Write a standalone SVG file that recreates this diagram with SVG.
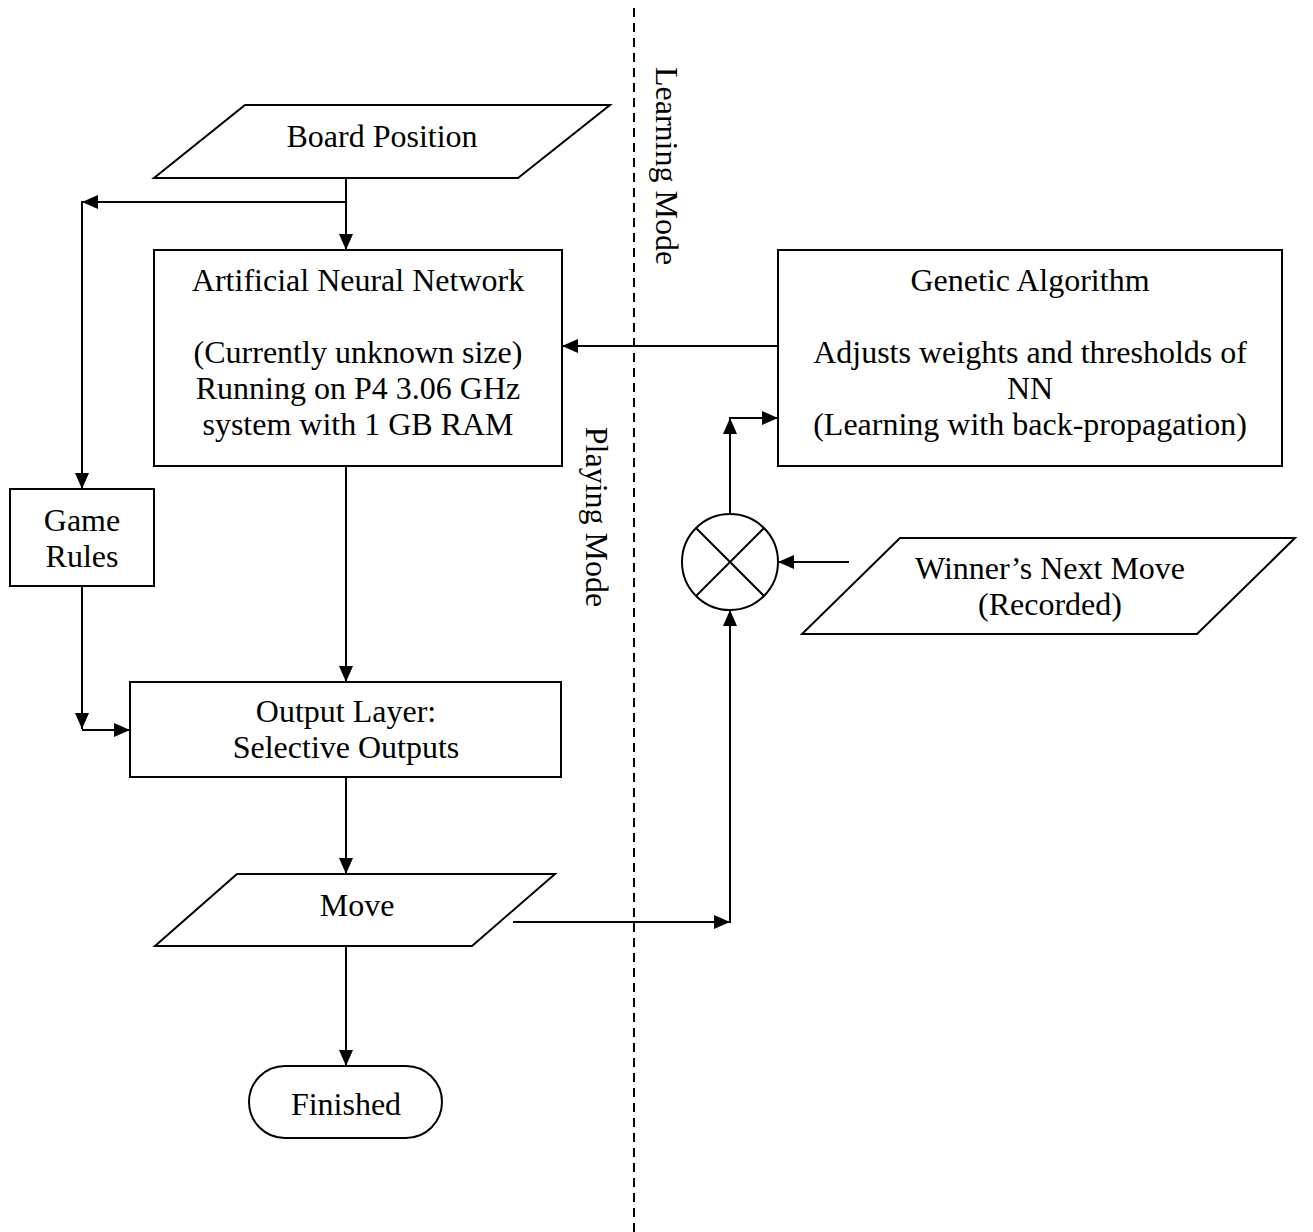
<svg xmlns="http://www.w3.org/2000/svg" width="1313" height="1232" viewBox="0 0 1313 1232">
<style>
.s{fill:#fff;stroke:#000;stroke-width:2}
.t{font-family:"Liberation Serif","Times New Roman",serif;font-size:32px;fill:#000;text-anchor:middle}
.c{fill:none;stroke:#000;stroke-width:2}
</style>
<defs>
<marker id="ah" markerUnits="userSpaceOnUse" markerWidth="16" markerHeight="14" refX="16" refY="7" orient="auto" viewBox="0 0 16 14">
<path d="M0,0 L16,7 L0,14 z" fill="#000"/>
</marker>
</defs>
<rect width="1313" height="1232" fill="#fff"/>
<line x1="634" y1="8" x2="634" y2="1232" stroke="#000" stroke-width="2" stroke-dasharray="9,6"/>
<text class="t" transform="translate(656,166) rotate(90)">Learning Mode</text>
<text class="t" transform="translate(586,517) rotate(90)">Playing Mode</text>
<g id="board">
<polygon class="s" points="245,105 610,105 518,178 154,178"/>
<text class="t" x="382" y="147">Board Position</text>
</g>
<g id="ann">
<rect class="s" x="154" y="250" width="408" height="216"/>
<text class="t" x="358" y="291">Artificial Neural Network</text>
<text class="t" x="358" y="363">(Currently unknown size)</text>
<text class="t" x="358" y="399">Running on P4 3.06 GHz</text>
<text class="t" x="358" y="435">system with 1 GB RAM</text>
</g>
<g id="ga">
<rect class="s" x="778" y="250" width="504" height="216"/>
<text class="t" x="1030" y="291">Genetic Algorithm</text>
<text class="t" x="1030" y="363">Adjusts weights and thresholds of</text>
<text class="t" x="1030" y="399">NN</text>
<text class="t" x="1030" y="435">(Learning with back-propagation)</text>
</g>
<g id="rules">
<rect class="s" x="10" y="489" width="144" height="97"/>
<text class="t" x="82" y="531">Game</text>
<text class="t" x="82" y="567">Rules</text>
</g>
<g id="comparator">
<circle class="s" cx="730" cy="562" r="48"/>
<line class="c" x1="696" y1="528" x2="764" y2="596"/>
<line class="c" x1="764" y1="528" x2="696" y2="596"/>
</g>
<g id="winner">
<polygon class="s" points="900,538 1295,538 1197,634 802,634"/>
<text class="t" x="1050" y="579">Winner’s Next Move</text>
<text class="t" x="1050" y="615">(Recorded)</text>
</g>
<g id="output">
<rect class="s" x="130" y="682" width="431" height="95"/>
<text class="t" x="346" y="722">Output Layer:</text>
<text class="t" x="346" y="758">Selective Outputs</text>
</g>
<g id="move">
<polygon class="s" points="237,874 555,874 472,946 155,946"/>
<text class="t" x="357" y="916">Move</text>
</g>
<g id="finished">
<rect class="s" x="249" y="1066" width="193" height="72" rx="36" ry="36"/>
<text class="t" x="346" y="1115">Finished</text>
</g>
<g id="connectors">
<line class="c" x1="346" y1="178" x2="346" y2="250" marker-end="url(#ah)"/>
<line class="c" x1="346" y1="202" x2="82" y2="202" marker-end="url(#ah)"/>
<line class="c" x1="82" y1="201" x2="82" y2="489" marker-end="url(#ah)"/>
<line class="c" x1="778" y1="346" x2="562" y2="346" marker-end="url(#ah)"/>
<line class="c" x1="346" y1="466" x2="346" y2="682" marker-end="url(#ah)"/>
<line class="c" x1="82" y1="586" x2="82" y2="729" marker-end="url(#ah)"/>
<line class="c" x1="82" y1="730" x2="130" y2="730" marker-end="url(#ah)"/>
<line class="c" x1="346" y1="777" x2="346" y2="874" marker-end="url(#ah)"/>
<line class="c" x1="346" y1="946" x2="346" y2="1066" marker-end="url(#ah)"/>
<line class="c" x1="513" y1="922" x2="730" y2="922" marker-end="url(#ah)"/>
<line class="c" x1="730" y1="923" x2="730" y2="610" marker-end="url(#ah)"/>
<line class="c" x1="849" y1="562" x2="778" y2="562" marker-end="url(#ah)"/>
<line class="c" x1="730" y1="514" x2="730" y2="418" marker-end="url(#ah)"/>
<line class="c" x1="729" y1="418" x2="778" y2="418" marker-end="url(#ah)"/>
</g>
</svg>
